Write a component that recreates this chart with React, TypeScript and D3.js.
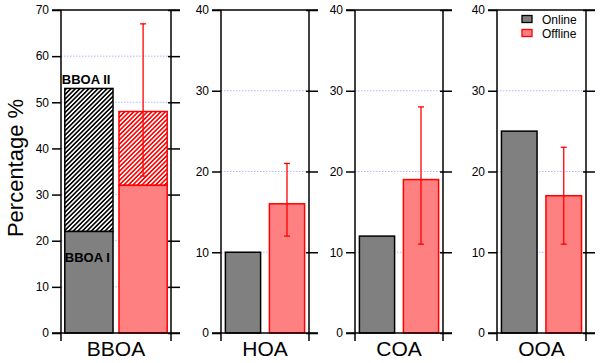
import React, { useEffect, useRef } from 'react';
import * as d3 from 'd3';

// Data
const categories = ['BBOA', 'HOA', 'COA', 'OOA'];
const seriesNames = ['Online', 'Offline'];
const onlineValues = [53, 10, 12, 25];
const offlineValues = [48, 16, 19, 17];
const offlineErrLow = [34, 12, 11, 11];
const offlineErrHigh = [67, 21, 28, 23];
// BBOA I part of the BBOA bars (online, offline); the rest is BBOA II
const bboaIValues = [22, 32];
const axisMax = [70, 40, 40, 40];

// Panel frames (px)
const panelLeft = [61, 221, 355, 497];
const panelRight = [171, 309, 443, 586];
const padInner = [0.11, 0.2, 0.2, 0.2];
const padOuter = [0.07, 0.1, 0.1, 0.1];

const FONT = 'Arial, "Liberation Sans", sans-serif';
const GRAY = '#808080';
const PINK = '#ff8080';
const RED = '#ff0000';

const App = () => {
    const svgRef = useRef<SVGSVGElement>(null);

    useEffect(() => {
        const width = 600;
        const height = 363;
        const yTop = 10;
        const yBottom = 333;

        const svg = d3.select(svgRef.current)
            .attr('width', width)
            .attr('height', height)
            .style('font-family', FONT);

        svg.selectAll('*').remove();

        // Hatch patterns
        const defs = svg.append('defs');
        const hatch = (id: string, color: string) => {
            const p = defs.append('pattern')
                .attr('id', id)
                .attr('patternUnits', 'userSpaceOnUse')
                .attr('width', 3.2)
                .attr('height', 3.2)
                .attr('patternTransform', 'rotate(45)');
            p.append('rect').attr('width', 3.2).attr('height', 3.2).attr('fill', '#fff');
            p.append('line')
                .attr('x1', 0.8).attr('y1', -1).attr('x2', 0.8).attr('y2', 4.2)
                .attr('stroke', color).attr('stroke-width', 1.6);
        };
        hatch('hatch-black', '#000');
        hatch('hatch-red', RED);

        categories.forEach((cat, i) => {
            const left = panelLeft[i];
            const right = panelRight[i];
            const y = d3.scaleLinear().domain([0, axisMax[i]]).range([yBottom, yTop]);
            const x = d3.scaleBand()
                .domain(seriesNames)
                .range([left, right])
                .paddingInner(padInner[i])
                .paddingOuter(padOuter[i]);
            const ticks = y.ticks(axisMax[i] / 10);
            const g = svg.append('g');

            // Grid
            g.append('g')
                .selectAll('line')
                .data(ticks.filter(t => t > 0 && t < axisMax[i]))
                .join('line')
                .attr('x1', left).attr('x2', right)
                .attr('y1', d => y(d)).attr('y2', d => y(d))
                .attr('stroke', '#b4b4ff')
                .attr('stroke-width', 1)
                .attr('stroke-dasharray', '1.5,1.5');

            const bw = x.bandwidth();
            const xOn = x('Online') as number;
            const xOff = x('Offline') as number;

            if (i === 0) {
                // Online: BBOA I solid, BBOA II hatched
                g.append('rect')
                    .attr('x', xOn).attr('width', bw)
                    .attr('y', y(onlineValues[i])).attr('height', y(bboaIValues[0]) - y(onlineValues[i]))
                    .attr('fill', 'url(#hatch-black)').attr('stroke', '#000').attr('stroke-width', 1.5);
                g.append('rect')
                    .attr('x', xOn).attr('width', bw)
                    .attr('y', y(bboaIValues[0])).attr('height', y(0) - y(bboaIValues[0]))
                    .attr('fill', GRAY).attr('stroke', '#000').attr('stroke-width', 1.5);
                // Offline
                g.append('rect')
                    .attr('x', xOff).attr('width', bw)
                    .attr('y', y(offlineValues[i])).attr('height', y(bboaIValues[1]) - y(offlineValues[i]))
                    .attr('fill', 'url(#hatch-red)').attr('stroke', RED).attr('stroke-width', 1.5);
                g.append('rect')
                    .attr('x', xOff).attr('width', bw)
                    .attr('y', y(bboaIValues[1])).attr('height', y(0) - y(bboaIValues[1]))
                    .attr('fill', PINK).attr('stroke', RED).attr('stroke-width', 1.5);

                g.append('text')
                    .attr('x', xOn - 3).attr('y', y(onlineValues[i]) - 4)
                    .attr('font-size', 13).attr('font-weight', 'bold')
                    .text('BBOA II');
                g.append('text')
                    .attr('x', xOn).attr('y', y(bboaIValues[0]) + 31)
                    .attr('font-size', 13).attr('font-weight', 'bold')
                    .text('BBOA I');
            } else {
                g.append('rect')
                    .attr('x', xOn).attr('width', bw)
                    .attr('y', y(onlineValues[i])).attr('height', y(0) - y(onlineValues[i]))
                    .attr('fill', GRAY).attr('stroke', '#000').attr('stroke-width', 1.5);
                g.append('rect')
                    .attr('x', xOff).attr('width', bw)
                    .attr('y', y(offlineValues[i])).attr('height', y(0) - y(offlineValues[i]))
                    .attr('fill', PINK).attr('stroke', RED).attr('stroke-width', 1.5);
            }

            // Error bar (offline)
            const cx = xOff + bw / 2;
            const eb = g.append('g').attr('stroke', RED).attr('stroke-width', 1.3);
            eb.append('line')
                .attr('x1', cx).attr('x2', cx)
                .attr('y1', y(offlineErrLow[i])).attr('y2', y(offlineErrHigh[i]));
            [offlineErrLow[i], offlineErrHigh[i]].forEach(v => {
                eb.append('line')
                    .attr('x1', cx - 3).attr('x2', cx + 3)
                    .attr('y1', y(v)).attr('y2', y(v));
            });

            // Left axis
            const axL = g.append('g')
                .attr('transform', `translate(${left},0)`)
                .call(d3.axisLeft(y).ticks(axisMax[i] / 10).tickSize(9).tickPadding(3).tickSizeOuter(0));
            axL.select('.domain').remove();
            axL.selectAll('line').attr('stroke', '#000').attr('stroke-width', 1.5);
            axL.selectAll('text')
                .attr('font-size', 12)
                .attr('font-family', FONT)
                .attr('fill', '#000');

            // Right axis (ticks crossing)
            const axR = g.append('g')
                .attr('transform', `translate(${right - 3},0)`)
                .call(d3.axisRight(y).ticks(axisMax[i] / 10).tickSize(12).tickSizeOuter(0).tickFormat(() => ''));
            axR.select('.domain').remove();
            axR.selectAll('line').attr('stroke', '#000').attr('stroke-width', 1.5);

            // Frame
            const frame = g.append('g').attr('stroke', '#000').attr('stroke-width', 1.5);
            frame.append('line').attr('x1', left - 9).attr('x2', right + 9).attr('y1', yTop).attr('y2', yTop);
            frame.append('line').attr('x1', left - 9).attr('x2', right + 9).attr('y1', yBottom).attr('y2', yBottom);
            frame.append('line').attr('x1', left).attr('x2', left).attr('y1', yTop).attr('y2', yBottom + 8);
            frame.append('line').attr('x1', right).attr('x2', right).attr('y1', yTop).attr('y2', yBottom + 8);

            // Category label
            g.append('text')
                .attr('x', (left + right) / 2)
                .attr('y', 356)
                .attr('text-anchor', 'middle')
                .attr('font-size', 21)
                .text(cat);

            // Legend in last panel
            if (i === categories.length - 1) {
                const leg = g.append('g');
                const fills = [GRAY, PINK];
                const strokes = ['#000', RED];
                seriesNames.forEach((s, k) => {
                    const ly = 19 + k * 14;
                    leg.append('rect')
                        .attr('x', 522).attr('y', ly - 3.5)
                        .attr('width', 10).attr('height', 7)
                        .attr('fill', fills[k]).attr('stroke', strokes[k]).attr('stroke-width', 1.3);
                    leg.append('text')
                        .attr('x', 542).attr('y', ly + 4.5)
                        .attr('font-size', 12)
                        .text(s);
                });
            }
        });

        // Y title
        svg.append('text')
            .attr('transform', 'translate(23,168) rotate(-90)')
            .attr('text-anchor', 'middle')
            .attr('font-size', 22)
            .text('Percentage %');
    }, []);

    return (
        <svg ref={svgRef} style={{ position: 'absolute', left: 0, top: 0 }}></svg>
    );
};

export default App;
